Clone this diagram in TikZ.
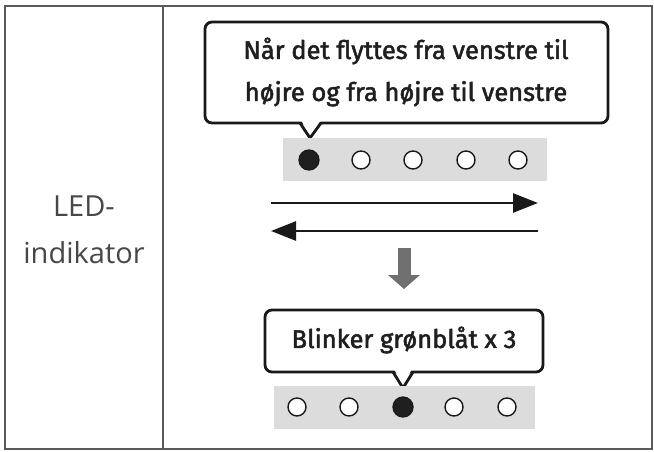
\documentclass[tikz,border=0pt]{standalone}
\usepackage{fontspec}
\setmainfont{Fira Sans}
\newfontfamily\lightfont{Open Sans}
\newfontfamily\medfont{Fira Sans}[FakeBold=2]
\usetikzlibrary{arrows.meta}
\definecolor{framegray}{HTML}{5A5A5A}
\definecolor{bargray}{HTML}{DCDCDC}
\definecolor{arrowgray}{HTML}{707070}
\tikzset{
  frameline/.style={draw=framegray, line width=1.8pt},
  calloutbox/.style={draw=black!90, line width=2.8pt, fill=white, rounded corners=7pt, inner sep=0pt},
  ledbar/.style={fill=bargray, draw=none, inner sep=0pt},
  ledoff/.style={circle, draw=black!90, line width=1.4pt, fill=white, minimum size=18pt, inner sep=0pt},
  ledon/.style={circle, draw=black!90, line width=1.3pt, fill=black!88, minimum size=20pt, inner sep=0pt},
  motion/.style={draw=black!90, line width=2.6pt, -{Triangle[length=25pt,width=19pt,fill=black!90]}},
  calltext/.style={font=\medfont\fontsize{25.5}{42}\selectfont, align=center, text=black!88},
  labeltext/.style={font=\lightfont\fontsize{29}{47}\selectfont, align=center, text=black!72}
}
\begin{document}
\begin{tikzpicture}[x=1pt,y=-1pt]
\useasboundingbox (0,0) rectangle (654,451);
\fill[white] (0,0) rectangle (654,451);
% frame
\draw[frameline] (5,6) rectangle (652,449);
\draw[frameline] (163,6) -- (163,449);
\node[labeltext] (lbl) at (84,230) {LED-\\indikator};

% top callout
\node[calloutbox, minimum width=403pt, minimum height=101pt] (c1) at (406.5,72.5) {};
\coordinate (c1tip) at (310,138);
\fill[white] (301.5,121.2) -- (320.5,121.2) -- (310,134) -- cycle;
\draw[black!90, line width=2.8pt, line join=miter] (300,123) -- (c1tip) -- (321,123);
\node[calltext] (t1) at (406,72) {Når det flyttes fra venstre til\\højre og fra højre til venstre};

% top LED bar
\node[ledbar, minimum width=264pt, minimum height=43pt] (bar1) at (415,159.5) {};
\node[ledon]  (a1) at (309,160) {};
\node[ledoff] (a2) at (361,160) {};
\node[ledoff] (a3) at (413,160) {};
\node[ledoff] (a4) at (466,160) {};
\node[ledoff] (a5) at (518,160) {};

% motion arrows
\coordinate (r0) at (271,203);
\coordinate (r1) at (538,203);
\coordinate (l0) at (538,231);
\coordinate (l1) at (271,231);
\draw[motion] (r0) -- (r1);
\draw[motion] (l0) -- (l1);

% down arrow
\coordinate (d0) at (404,248);
\coordinate (d1) at (404,289);
\draw[arrowgray, line width=13pt, -{Triangle[length=14pt,width=31pt]}] (d0) -- (d1);

% bottom callout
\node[calloutbox, minimum width=278pt, minimum height=62pt] (c2) at (404,341) {};
\coordinate (c2tip) at (403,388);
\fill[white] (394.5,370.2) -- (411.5,370.2) -- (403,383) -- cycle;
\draw[black!90, line width=2.8pt, line join=miter] (393,372) -- (c2tip) -- (413,372);
\node[calltext] (t2) at (404,340) {Blinker grønblåt x 3};

% bottom LED bar
\node[ledbar, minimum width=261pt, minimum height=43pt] (bar2) at (404.5,407.5) {};
\node[ledoff] (b1) at (297,407) {};
\node[ledoff] (b2) at (349,407) {};
\node[ledon]  (b3) at (403,407) {};
\node[ledoff] (b4) at (454,407) {};
\node[ledoff] (b5) at (507,407) {};
\end{tikzpicture}
\end{document}
